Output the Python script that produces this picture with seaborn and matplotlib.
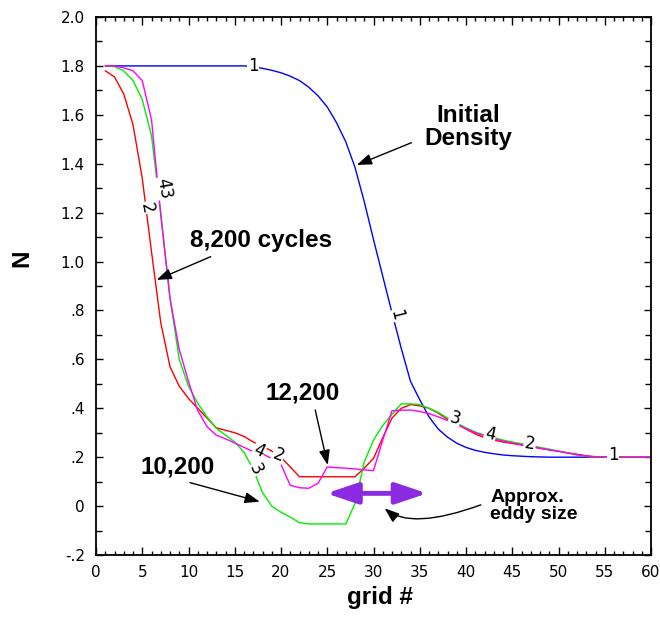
import numpy as np
import pandas as pd
import matplotlib
matplotlib.use("Agg")
import matplotlib.pyplot as plt
import seaborn as sns

# ---------------- data ----------------
grid = list(range(1, 61))

initial_density = [1.80] * 16 + [
    1.797, 1.79, 1.782, 1.772, 1.758, 1.74, 1.713, 1.678, 1.632, 1.568,
    1.49, 1.385, 1.245, 1.09, 0.94, 0.79, 0.645, 0.51, 0.435, 0.365,
    0.315, 0.282, 0.257, 0.24, 0.228, 0.22, 0.214, 0.209, 0.206, 0.204,
    0.202, 0.201] + [0.20] * 12

cycles_8200 = [
    1.78, 1.755, 1.685, 1.56, 1.34, 1.04, 0.75, 0.57, 0.49, 0.44,
    0.40, 0.36, 0.32, 0.31, 0.30, 0.285, 0.262, 0.245, 0.225, 0.20,
    0.16, 0.12, 0.12, 0.12, 0.12, 0.12, 0.12, 0.12, 0.155, 0.195,
    0.28, 0.36, 0.40, 0.415, 0.41, 0.40, 0.38, 0.355, 0.335, 0.315,
    0.295, 0.28, 0.27, 0.262, 0.256, 0.25, 0.243, 0.236, 0.23, 0.224,
    0.218, 0.212, 0.206, 0.202, 0.20, 0.20, 0.20, 0.20, 0.20, 0.20]

cycles_10200 = [
    1.80, 1.797, 1.78, 1.74, 1.663, 1.515, 1.20, 0.85, 0.60, 0.49,
    0.42, 0.365, 0.318, 0.29, 0.262, 0.22, 0.15, 0.055, 0.0, -0.025,
    -0.045, -0.068, -0.073, -0.073, -0.073, -0.073, -0.073, 0.01, 0.18, 0.27,
    0.33, 0.375, 0.418, 0.418, 0.415, 0.40, 0.383, 0.36, 0.34, 0.32,
    0.303, 0.29, 0.28, 0.27, 0.262, 0.255, 0.248, 0.24, 0.233, 0.225,
    0.217, 0.209, 0.203, 0.20, 0.20, 0.20, 0.20, 0.20, 0.20, 0.20]

cycles_12200 = [
    1.80, 1.80, 1.792, 1.78, 1.74, 1.58, 1.19, 0.85, 0.64, 0.51,
    0.39, 0.325, 0.29, 0.275, 0.258, 0.24, 0.223, 0.213, 0.195, 0.17,
    0.085, 0.075, 0.073, 0.093, 0.16, 0.157, 0.155, 0.152, 0.148, 0.145,
    0.27, 0.39, 0.392, 0.393, 0.387, 0.378, 0.365, 0.35, 0.335, 0.317,
    0.30, 0.287, 0.275, 0.266, 0.258, 0.251, 0.244, 0.237, 0.23, 0.224,
    0.217, 0.21, 0.204, 0.20, 0.20, 0.20, 0.20, 0.20, 0.20, 0.20]

series_names = ["Initial", "8,200", "10,200", "12,200"]
series_colors = ["#0000ff", "#ff0000", "#00ee00", "#ff00ff"]

x_ticks = list(range(0, 61, 5))
y_ticks = [-0.2, 0.0, 0.2, 0.4, 0.6, 0.8, 1.0, 1.2, 1.4, 1.6, 1.8, 2.0]
y_tick_labels = ["-.2", "0", ".2", ".4", ".6", ".8", "1.0", "1.2", "1.4", "1.6", "1.8", "2.0"]

df = pd.concat([
    pd.DataFrame({"grid": grid, "N": vals, "series": name})
    for name, vals in zip(series_names,
                          [initial_density, cycles_8200, cycles_10200, cycles_12200])
], ignore_index=True)

# ---------------- plot ----------------
sns.set_style("ticks")
plt.rcParams["font.family"] = ["DejaVu Sans"]
plt.rcParams["text.color"] = "black"
plt.rcParams["axes.labelcolor"] = "black"
plt.rcParams["xtick.color"] = "black"
plt.rcParams["ytick.color"] = "black"
plt.rcParams["axes.edgecolor"] = "black"

fig = plt.figure(figsize=(6.6, 6.18), dpi=100)
ax = fig.add_axes([96 / 660, 1 - 555 / 618, (651 - 96) / 660, (555 - 17) / 618])

sns.lineplot(data=df, x="grid", y="N", hue="series", hue_order=series_names,
             palette=series_colors, linewidth=1.0, legend=False, ax=ax,
             estimator=None, sort=False)

ax.set_xlim(0, 60)
ax.set_ylim(-0.2, 2.0)
ax.set_xticks(x_ticks)
ax.set_xticks(np.arange(0, 61, 1), minor=True)
ax.set_yticks(y_ticks)
ax.set_yticklabels(y_tick_labels)
ax.set_yticks(np.arange(-0.2, 2.01, 0.1), minor=True)

for s in ax.spines.values():
    s.set_visible(True)
    s.set_linewidth(1.3)
    s.set_color("black")

ax.tick_params(axis="x", which="both", direction="in", top=True, bottom=True,
               labelsize=11, pad=7, color="black", labelcolor="black", width=1)
ax.tick_params(axis="x", which="major", length=5.5)
ax.tick_params(axis="x", which="minor", length=3)
ax.tick_params(axis="y", which="both", direction="in", left=True, right=True,
               labelsize=11, pad=8, color="black", labelcolor="black", width=1)
ax.tick_params(axis="y", which="major", length=5)
ax.tick_params(axis="y", which="minor", length=4)

bold = dict(fontfamily="Liberation Sans", fontweight="bold", color="black")
ax.set_xlabel("grid #", fontsize=17.5, **bold)
ax.xaxis.set_label_coords(0.512, -0.058)
ax.set_ylabel("N", fontsize=17.5, **bold)
ax.yaxis.set_label_coords(-0.113, 0.552)

# inline curve labels
lab_kw = dict(fontsize=12, ha="center", va="center", color="black", zorder=5,
              bbox=dict(boxstyle="square,pad=0.05", fc="white", ec="none"))
curve_labels = [
    ("1", 17.0, 1.80, 0), ("1", 32.5, 0.78, -76), ("1", 55.9, 0.21, 0),
    ("2", 5.45, 1.22, -78), ("43", 7.3, 1.30, -80),
    ("4", 17.6, 0.225, -25), ("2", 19.7, 0.208, -22), ("3", 17.2, 0.15, -62),
    ("3", 38.8, 0.36, -15), ("4", 42.6, 0.292, -12), ("2", 46.9, 0.255, -8),
]
for t, x, y, r in curve_labels:
    ax.text(x, y, t, rotation=r, rotation_mode="anchor", **lab_kw)

# annotations
arrow_kw = dict(arrowstyle="-|>,head_length=0.6,head_width=0.22", color="black",
                lw=1.0, mutation_scale=15, shrinkA=0, shrinkB=0)
ax.text(40.2, 1.55, "Initial\nDensity", fontsize=17.5, ha="center", va="center",
        multialignment="center", linespacing=1.05, **bold)
ax.annotate("", xy=(28.2, 1.395), xytext=(34.1, 1.486), arrowprops=arrow_kw)

ax.text(10.16, 1.088, "8,200 cycles", fontsize=17.5, ha="left", va="center", **bold)
ax.annotate("", xy=(6.56, 0.925), xytext=(12.4, 1.02), arrowprops=arrow_kw)

ax.text(18.3, 0.461, "12,200", fontsize=17.5, ha="left", va="center", **bold)
ax.annotate("", xy=(25.05, 0.168), xytext=(23.7, 0.393), arrowprops=arrow_kw)

ax.text(4.76, 0.161, "10,200", fontsize=17.5, ha="left", va="center", **bold)
ax.annotate("", xy=(17.7, 0.018), xytext=(10.16, 0.096), arrowprops=arrow_kw)

ax.text(42.6, 0.0, "Approx.\neddy size", fontsize=14, ha="left", va="center",
        multialignment="left", linespacing=1.05, **bold)
curved = dict(arrow_kw)
curved["connectionstyle"] = "angle3,angleA=20,angleB=140"
ax.annotate("", xy=(31.2, -0.009), xytext=(41.6, 0.005), arrowprops=curved)

# eddy-size double arrow
ax.annotate("", xy=(35.8, 0.052), xytext=(24.9, 0.052),
            arrowprops=dict(arrowstyle="<|-|>,head_length=0.95,head_width=0.32",
                            color="#8a2be2", lw=3.5, mutation_scale=20,
                            shrinkA=0, shrinkB=0))

fig.savefig("out.png", dpi=100)
